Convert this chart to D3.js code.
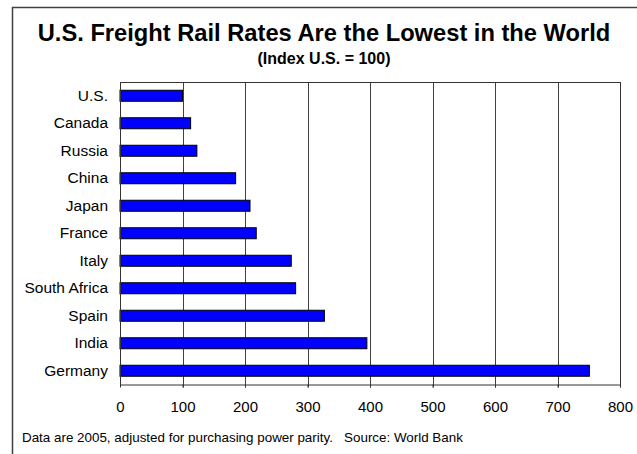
<!DOCTYPE html>
<html><head><meta charset="utf-8">
<script src="https://cdn.jsdelivr.net/npm/d3@7/dist/d3.min.js"></script>
<style>body{margin:0;background:#fff}svg{display:block;font-family:"Liberation Sans",Arial,sans-serif}</style>
</head><body>
<script>
const categories = ["U.S.","Canada","Russia","China","Japan","France","Italy","South Africa","Spain","India","Germany"];
const values = [100,113,123,185,208,218,274,281,327,395,751];
const xTicks = [0,100,200,300,400,500,600,700,800];
const title = "U.S. Freight Rail Rates Are the Lowest in the World";
const subtitle = "(Index U.S. = 100)";
const footnote = "Data are 2005, adjusted for purchasing power parity.   Source: World Bank";

const W = 637, H = 454;
const svg = d3.select("body").append("svg").attr("width", W).attr("height", H);
const L = 120, R = 620, T = 82, B = 384.5;
const FF = "Liberation Sans, Arial, sans-serif";

// outer frame
svg.append("rect").attr("x",12.5).attr("y",7.5).attr("width",W).attr("height",H)
  .attr("fill","none").attr("stroke","#404040").attr("stroke-width",1.5);

svg.append("text").attr("x",324).attr("y",41).attr("text-anchor","middle")
  .attr("font-weight","bold").attr("font-size",23.7).text(title);
svg.append("text").attr("x",324).attr("y",64).attr("text-anchor","middle")
  .attr("font-weight","bold").attr("font-size",16).text(subtitle);

const x = d3.scaleLinear().domain([0,800]).range([L,R]);
const y = d3.scaleBand().domain(categories).range([T,B]).paddingInner(0.6).paddingOuter(0.3);

// gridlines
svg.append("g").selectAll("line").data(xTicks.slice(1)).join("line")
  .attr("x1",d=>Math.round(x(d))+0.5).attr("x2",d=>Math.round(x(d))+0.5)
  .attr("y1",T).attr("y2",B+3).attr("stroke","#404040").attr("stroke-width",1);

// bars
svg.append("g").selectAll("rect").data(values).join("rect")
  .attr("x",x(0)).attr("y",(d,i)=>y(categories[i]))
  .attr("width",d=>x(d)-x(0)).attr("height",y.bandwidth())
  .attr("fill","#0000ff").attr("stroke","#000").attr("stroke-width",1);

// plot frame
svg.append("rect").attr("x",L+0.5).attr("y",T+0.5).attr("width",R-L).attr("height",B-T)
  .attr("fill","none").attr("stroke","#333").attr("stroke-width",1);

// x axis
const xa = svg.append("g").attr("transform",`translate(0,${B})`)
  .call(d3.axisBottom(x).tickValues(xTicks).tickSize(3).tickPadding(14).tickFormat(d3.format("d")));
xa.select(".domain").remove();
xa.selectAll("line").attr("stroke","#333");
xa.selectAll("text").attr("font-size",15).attr("fill","#000").attr("font-family",FF);

// y axis labels
const ya = svg.append("g").attr("transform",`translate(${L},0)`)
  .call(d3.axisLeft(y).tickSize(0).tickPadding(12));
ya.select(".domain").remove();
ya.selectAll("text").attr("font-size",15.5).attr("fill","#000").attr("font-family",FF);

svg.append("text").attr("x",22).attr("y",442).attr("font-size",13.4).text(footnote).style("white-space","pre");
</script>
</body></html>
